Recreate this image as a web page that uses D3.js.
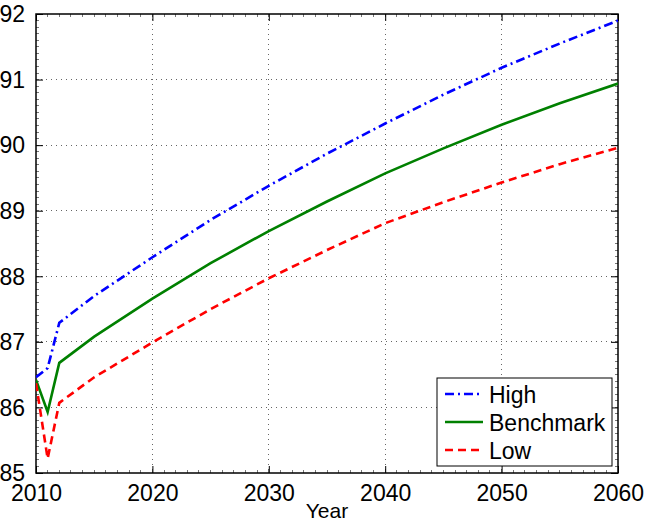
<!DOCTYPE html>
<html>
<head>
<meta charset="utf-8">
<script src="https://cdn.jsdelivr.net/npm/d3@7"></script>
<style>
  body { margin: 0; background: #fff; }
  svg text { font-family: "Liberation Sans", Arial, sans-serif; fill: #000; }
</style>
</head>
<body>
<div id="chart"></div>
<script>
var years     = [2010, 2011, 2012, 2015, 2020, 2025, 2030, 2035, 2040, 2045, 2050, 2055, 2060];
var high      = [86.46, 86.6, 87.29, 87.7, 88.29, 88.86, 89.38, 89.87, 90.33, 90.77, 91.18, 91.55, 91.9];
var benchmark = [86.42, 85.93, 86.68, 87.08, 87.66, 88.2, 88.69, 89.14, 89.57, 89.95, 90.31, 90.64, 90.94];
var low       = [86.37, 85.22, 86.07, 86.46, 86.99, 87.5, 87.97, 88.4, 88.81, 89.13, 89.43, 89.71, 89.96];
var xTicks    = [2010, 2020, 2030, 2040, 2050, 2060];
var yTicks    = [85, 86, 87, 88, 89, 90, 91, 92];
var seriesNames = ["High", "Benchmark", "Low"];

var width = 645, height = 524;
var margin = {left: 36, top: 14, right: 27, bottom: 51};
var w = width - margin.left - margin.right,
    h = height - margin.top - margin.bottom;

var svg = d3.select("#chart").append("svg")
    .attr("width", width)
    .attr("height", height);

var g = svg.append("g")
    .attr("transform", "translate(" + margin.left + "," + margin.top + ")");

var x = d3.scaleLinear().domain([2010, 2060]).range([0, w]);
var y = d3.scaleLinear().domain([85, 92]).range([h, 0]);

//////////// GRID ////////////
var grid = g.append("g").attr("class", "grid");

grid.selectAll("line.gx")
    .data(xTicks.slice(1, -1))
    .enter().append("line")
    .attr("x1", function(d) { return x(d); })
    .attr("x2", function(d) { return x(d); })
    .attr("y1", 0)
    .attr("y2", h);

grid.selectAll("line.gy")
    .data(yTicks.slice(1, -1))
    .enter().append("line")
    .attr("class", "gy")
    .attr("x1", 0)
    .attr("x2", w)
    .attr("y1", function(d) { return y(d); })
    .attr("y2", function(d) { return y(d); });

grid.selectAll("line")
    .attr("stroke", "#666")
    .attr("stroke-width", 1)
    .attr("stroke-dasharray", "1,4")
    .attr("shape-rendering", "crispEdges");

//////////// MINOR TICKS ////////////
var minorX = d3.range(2010, 2061, 1);
var minorY = d3.range(85, 92.001, 0.1);
var minor = g.append("g").attr("stroke", "#777").attr("stroke-width", 1).attr("shape-rendering", "crispEdges");
[0, h].forEach(function(yy, k) {
  minor.selectAll(null).data(minorX).enter().append("line")
    .attr("x1", function(d) { return x(d); })
    .attr("x2", function(d) { return x(d); })
    .attr("y1", yy)
    .attr("y2", k === 0 ? yy + 3 : yy - 3);
});
[0, w].forEach(function(xx, k) {
  minor.selectAll(null).data(minorY).enter().append("line")
    .attr("y1", function(d) { return y(d); })
    .attr("y2", function(d) { return y(d); })
    .attr("x1", xx)
    .attr("x2", k === 0 ? xx + 3 : xx - 3);
});

//////////// AXES ////////////
var xAxis = g.append("g")
    .attr("transform", "translate(0," + h + ")")
    .call(d3.axisBottom(x).tickValues(xTicks).tickFormat(d3.format("d")).tickSize(-7).tickPadding(12));
var xTop = g.append("g")
    .call(d3.axisTop(x).tickValues(xTicks).tickFormat("").tickSize(-7));
var yAxis = g.append("g")
    .call(d3.axisLeft(y).tickValues(yTicks).tickFormat(d3.format("d")).tickSize(-7).tickPadding(11));
var yRight = g.append("g")
    .attr("transform", "translate(" + w + ",0)")
    .call(d3.axisRight(y).tickValues(yTicks).tickFormat("").tickSize(-7));

[xAxis, xTop, yAxis, yRight].forEach(function(a) {
  a.select(".domain").remove();
  a.selectAll("line").attr("stroke", "#000").attr("stroke-width", 1);
  a.selectAll("text").style("font-size", "23px").attr("fill", "#000");
});
yAxis.selectAll("text").attr("dy", "0.34em");

g.append("rect")
    .attr("width", w)
    .attr("height", h)
    .attr("fill", "none")
    .attr("stroke", "#000")
    .attr("stroke-width", 1.5);

svg.append("text")
    .attr("x", margin.left + w / 2)
    .attr("y", 518)
    .attr("text-anchor", "middle")
    .style("font-size", "21px")
    .text("Year");

//////////// LINES ////////////
var styles = [
  {values: high, color: "#0000ff", dash: "9,4,2,4"},
  {values: benchmark, color: "#008000", dash: null},
  {values: low, color: "#ff0000", dash: "8,5"}
];

var line = d3.line()
    .x(function(d) { return x(d[0]); })
    .y(function(d) { return y(d[1]); });

g.append("clipPath").attr("id", "clip")
    .append("rect").attr("width", w).attr("height", h);

g.append("g").attr("clip-path", "url(#clip)")
    .selectAll("path.series")
    .data(styles)
    .enter().append("path")
    .attr("class", "series")
    .attr("d", function(s) { return line(years.map(function(yr, i) { return [yr, s.values[i]]; })); })
    .attr("fill", "none")
    .attr("stroke", function(s) { return s.color; })
    .attr("stroke-width", 2.6)
    .attr("stroke-dasharray", function(s) { return s.dash; });

//////////// LEGEND ////////////
var legend = svg.append("g").attr("transform", "translate(437,378)");
legend.append("rect")
    .attr("width", 175)
    .attr("height", 88)
    .attr("fill", "#fff")
    .attr("stroke", "#000")
    .attr("stroke-width", 1);

var items = legend.selectAll("g.item")
    .data(styles)
    .enter().append("g")
    .attr("class", "item")
    .attr("transform", function(d, i) { return "translate(0," + (16 + i * 28) + ")"; });

items.append("line")
    .attr("x1", 8)
    .attr("x2", 46)
    .attr("stroke", function(s) { return s.color; })
    .attr("stroke-width", 2.6)
    .attr("stroke-dasharray", function(s) { return s.dash; });

items.append("text")
    .attr("x", 52)
    .attr("y", 9)
    .style("font-size", "23px")
    .text(function(d, i) { return seriesNames[i]; });
</script>
</body>
</html>
